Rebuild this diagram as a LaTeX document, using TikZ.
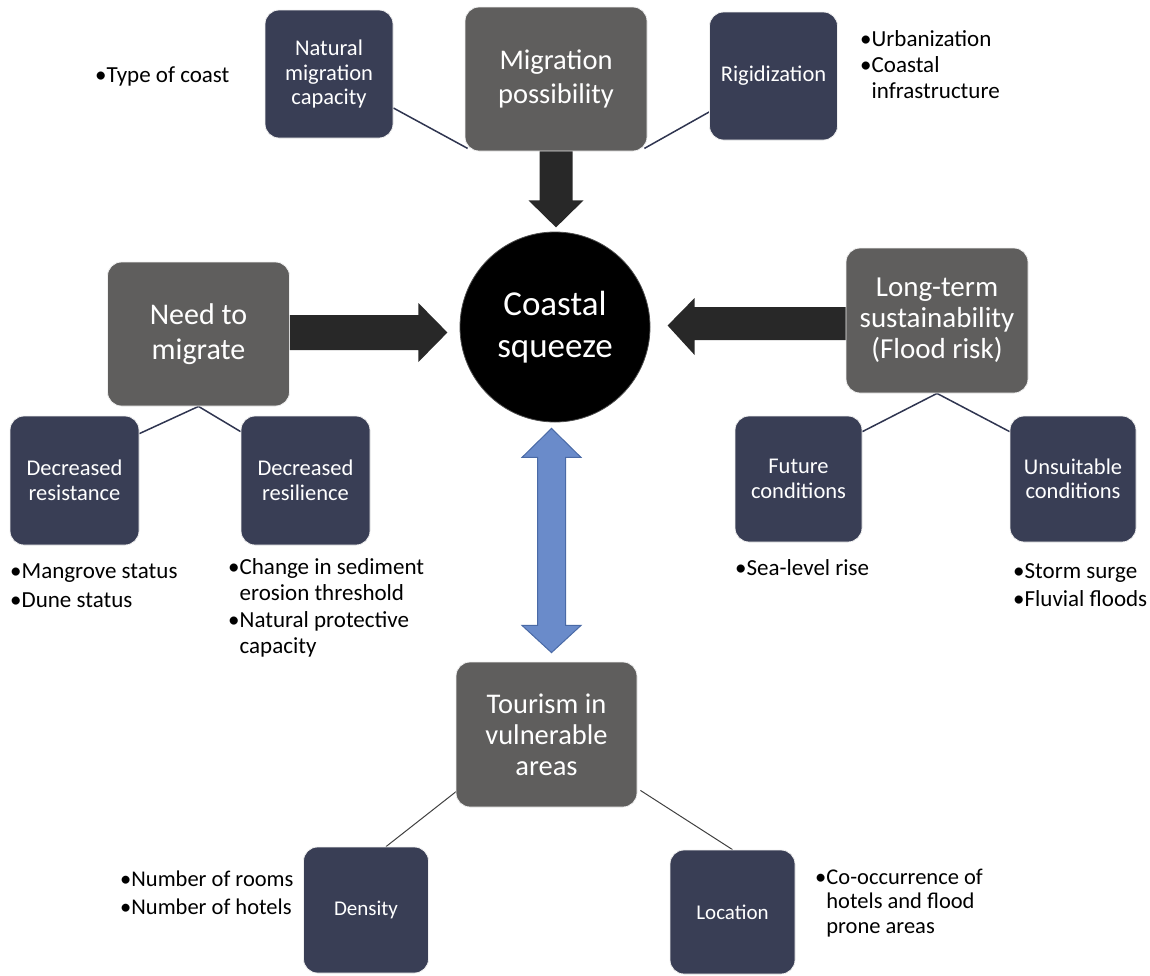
\documentclass[tikz,border=0pt]{standalone}
\usepackage{fontspec}
\setmainfont{Carlito}
\usetikzlibrary{calc}
\definecolor{boxgray}{HTML}{5F5E5D}
\definecolor{navy}{HTML}{393E55}
\definecolor{linenavy}{HTML}{2F3550}
\definecolor{arrowdark}{HTML}{282828}
\definecolor{bluefill}{HTML}{6A8BCA}
\definecolor{blueline}{HTML}{4A6AA6}
\pgfdeclarelayer{bg}
\pgfsetlayers{bg,main}
\begin{document}
\begin{tikzpicture}[x=1pt,y=-1pt,
  graybox/.style={rectangle, rounded corners=14pt, fill=boxgray, draw=white!88!gray, line width=0.8pt,
    text=white, align=center, inner sep=0pt, minimum width=182pt, minimum height=144pt},
  navybox/.style={rectangle, rounded corners=14pt, fill=navy, draw=white!88!gray, line width=0.8pt,
    text=white, align=center, inner sep=0pt, minimum width=128pt, minimum height=128pt,
    font=\fontsize{22.5}{24.5}\selectfont},
  bigfont/.style={font=\fontsize{28.5}{34}\selectfont},
  bul/.style={inner sep=0pt, anchor=north west, align=left, text=black},
  conn/.style={draw=linenavy, line width=1.5pt},
  thinconn/.style={draw=black!75, line width=1pt},
  blockarrow/.style={fill=arrowdark},
  dblarrow/.style={fill=bluefill, draw=blueline, line width=1pt, line join=miter}
]
\useasboundingbox (0,0) rectangle (1150,975);

% central circle
\node[circle, fill=black, draw=black!70, line width=0.8pt, minimum size=190pt, inner sep=0pt,
  text=white, align=center, font=\fontsize{35}{42}\selectfont] (cs) at (555,327) {Coastal\\squeeze};

% top
\node[graybox, bigfont] (mp) at (556,79) {Migration\\possibility};
\node[navybox] (nmc) at (329,74) {Natural\\migration\\capacity};
\node[navybox] (rig) at (773.5,76) {Rigidization};

% left
\node[graybox, font=\fontsize{30}{35}\selectfont] (ntm) at (198.5,334) {Need to\\migrate};
\node[navybox, minimum width=129pt, minimum height=129pt] (dres) at (74.5,480.5) {Decreased\\resistance};
\node[navybox, minimum width=129pt, minimum height=129pt] (dresil) at (305.5,480.5) {Decreased\\resilience};

% right
\node[graybox, font=\fontsize{29}{31}\selectfont, minimum height=145pt] (lts) at (937,320.5) {Long-term\\sustainability\\(Flood risk)};
\node[navybox, minimum width=127pt, minimum height=126pt] (fut) at (798.5,479) {Future\\conditions};
\node[navybox, minimum width=126pt, minimum height=126pt] (uns) at (1073,479) {Unsuitable\\conditions};

% bottom
\node[graybox, font=\fontsize{28.5}{31}\selectfont, minimum width=181pt, minimum height=145pt] (tour) at (546.5,734.5) {Tourism in\\vulnerable\\areas};
\node[navybox, minimum width=125pt, minimum height=126pt, font=\fontsize{21}{23}\selectfont] (den) at (366,910) {Density};
\node[navybox, minimum width=125pt, minimum height=124pt, font=\fontsize{21}{23}\selectfont] (loc) at (732.5,912) {Location};

% bullet texts
\node[bul, font=\fontsize{23}{26}\selectfont] (t1) at (95,63) {\rule{0pt}{19pt}•Type of coast};
\node[bul, font=\fontsize{23}{26}\selectfont] (t2) at (860,27) {\rule{0pt}{19pt}•Urbanization\\•Coastal\\\hphantom{•}infrastructure};
\node[bul, font=\fontsize{23}{29}\selectfont] (t3) at (10,559) {\rule{0pt}{19pt}•Mangrove status\\•Dune status};
\node[bul, font=\fontsize{23}{26.5}\selectfont] (t4) at (228,555) {\rule{0pt}{19pt}•Change in sediment\\\hphantom{•}erosion threshold\\•Natural protective\\\hphantom{•}capacity};
\node[bul, font=\fontsize{23}{28}\selectfont] (t5) at (735,556) {\rule{0pt}{19pt}•Sea-level rise};
\node[bul, font=\fontsize{23}{28}\selectfont] (t6) at (1013,559) {\rule{0pt}{19pt}•Storm surge\\•Fluvial floods};
\node[bul, font=\fontsize{22.5}{28}\selectfont] (t7) at (120,867) {\rule{0pt}{19pt}•Number of rooms\\•Number of hotels};
\node[bul, font=\fontsize{22.5}{24.5}\selectfont] (t8) at (815,865) {\rule{0pt}{19pt}•Co-occurrence of\\\hphantom{•}hotels and flood\\\hphantom{•}prone areas};

% thin connectors
\begin{pgfonlayer}{bg}
\draw[conn] ($(nmc.east)+(0,34)$) -- ($(mp.south west)+(3,-3)$);
\draw[conn] ($(mp.south east)+(-3,-3)$) -- ($(rig.west)+(0,36)$);
\draw[conn] (ntm.south) -- ($(dres.north east)+(0,18)$);
\draw[conn] (ntm.south) -- ($(dresil.north west)+(0,16)$);
\draw[conn] (lts.south) -- ($(fut.north east)+(0,16)$);
\draw[conn] (lts.south) -- ($(uns.north west)+(0,16)$);
\draw[thinconn] ($(tour.south west)+(2,-17)$) -- ($(den.north)+(20,0)$);
\draw[thinconn] ($(tour.south east)+(3,-17)$) -- (loc.north);
\end{pgfonlayer}

% block arrows
\fill[blockarrow] ($(mp.south)+(-16.5,0)$) -- ($(mp.south)+(16.5,0)$) -- ($(mp.south)+(16.5,49)$)
  -- ($(mp.south)+(27.5,49)$) -- ($(mp.south)+(0,76)$) -- ($(mp.south)+(-27.5,49)$)
  -- ($(mp.south)+(-16.5,49)$) -- cycle;
\fill[blockarrow] ($(ntm.east)+(0,-19)$) -- ($(ntm.east)+(128.5,-19)$) -- ($(ntm.east)+(128.5,-31)$)
  -- ($(ntm.east)+(157.5,-1.5)$) -- ($(ntm.east)+(128.5,28)$) -- ($(ntm.east)+(128.5,16)$)
  -- ($(ntm.east)+(0,16)$) -- cycle;
\fill[blockarrow] ($(lts.west)+(0,-13.5)$) -- ($(lts.west)+(-151,-13.5)$) -- ($(lts.west)+(-151,-22.5)$)
  -- ($(lts.west)+(-178,5)$) -- ($(lts.west)+(-151,34.5)$) -- ($(lts.west)+(-151,19.5)$)
  -- ($(lts.west)+(0,19.5)$) -- cycle;
% double arrow between circle and tourism
\draw[dblarrow] ($(cs.south)+(-3.5,6)$) -- ($(cs.south)+(26,35)$) -- ($(cs.south)+(10.5,35)$)
  -- ($(cs.south)+(10.5,203)$) -- ($(cs.south)+(26,203)$) -- ($(tour.north)+(5,-9)$)
  -- ($(cs.south)+(-33,203)$) -- ($(cs.south)+(-17.5,203)$) -- ($(cs.south)+(-17.5,35)$)
  -- ($(cs.south)+(-33,35)$) -- cycle;
\end{tikzpicture}
\end{document}
